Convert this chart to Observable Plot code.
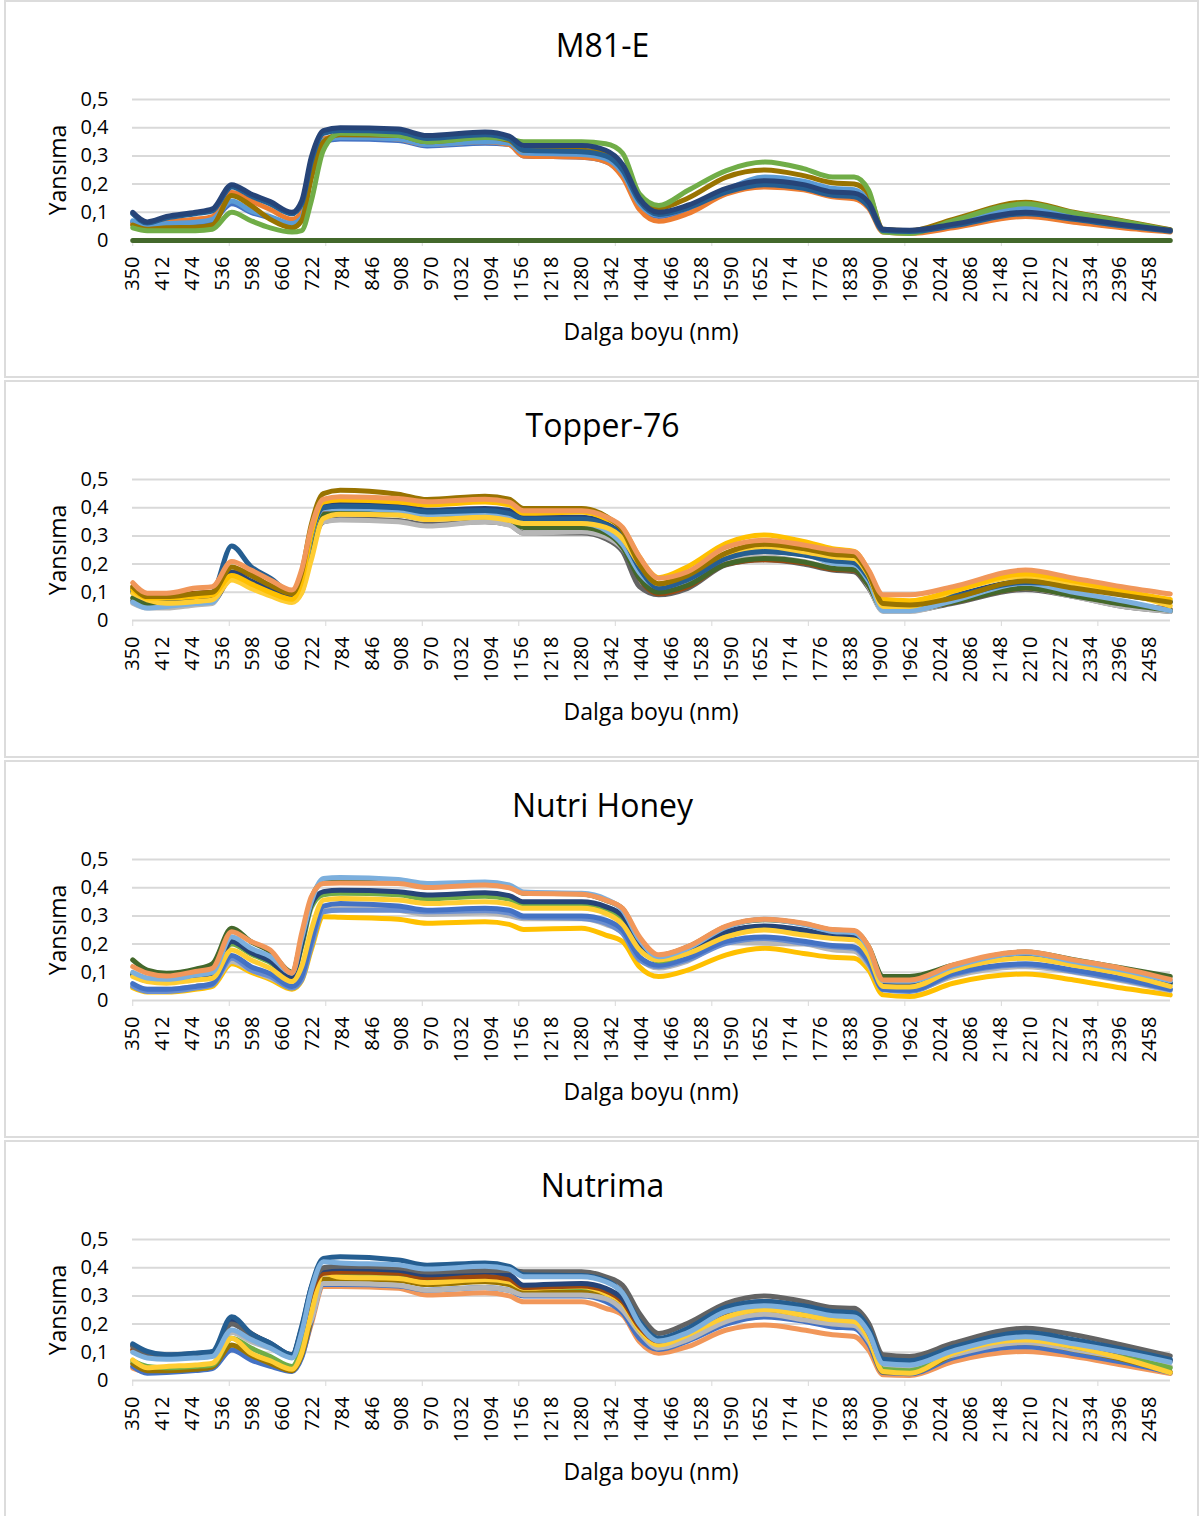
<!DOCTYPE html>
<html><head><meta charset="utf-8">
<script src="https://cdn.jsdelivr.net/npm/d3@7"></script>
<script src="https://cdn.jsdelivr.net/npm/@observablehq/plot@0.6"></script>
<style>
body{margin:0;background:#fff;font-family:"Open Sans",sans-serif;}
#root{position:relative;width:1200px;height:1516px;overflow:hidden;background:#fff}
.panel{position:absolute;left:4px;width:1195px;height:378px;box-sizing:border-box;border:2px solid #dcdcdc;}
.title{position:absolute;left:0;width:1205px;text-align:center;font-size:32px;line-height:40px;color:#000;white-space:nowrap}
.ylab{position:absolute;font-size:23px;line-height:1;color:#000;white-space:nowrap;transform:translate(-50%,-50%) rotate(-90deg)}
.xlab{position:absolute;font-size:23px;line-height:1;color:#000;white-space:nowrap;transform:translate(-50%,-50%)}
.chart{position:absolute;left:0}
</style>
</head><body><div id="root"></div>
<script>
// wavelengths (nm) at which values were read
const W = [350,380,420,480,515,555,595,635,680,700,720,745,780,900,960,1080,1130,1160,1280,1330,1365,1400,1440,1500,1580,1660,1740,1800,1845,1875,1905,1960,2050,2200,2300,2400,2500];

const xTicks = [350,412,474,536,598,660,722,784,846,908,970,1032,1094,1156,1218,1280,1342,1404,1466,1528,1590,1652,1714,1776,1838,1900,1962,2024,2086,2148,2210,2272,2334,2396,2458];
const xTickMarks = [350,550,750,950,1150,1350,1550,1750,1950,2150,2350];
const yTicks = [0,0.1,0.2,0.3,0.4,0.5];
const yTickLabels = ["0","0,1","0,2","0,3","0,4","0,5"];

const titles = ["M81-E","Topper-76","Nutri Honey","Nutrima"];
const yTitle = "Yansıma";
const xTitle = "Dalga boyu (nm)";

// ---- M81-E ----
const m81_blue    = [.065,.045,.055,.06,.07,.13,.10,.08,.055,.075,.23,.35,.36,.355,.335,.345,.34,.30,.295,.28,.23,.12,.085,.11,.175,.205,.195,.17,.165,.13,.035,.03,.055,.105,.08,.055,.035];
const m81_orange  = [.06,.05,.065,.075,.085,.17,.14,.11,.075,.10,.25,.36,.37,.36,.34,.35,.34,.30,.295,.28,.225,.11,.068,.095,.165,.19,.18,.155,.148,.115,.03,.025,.045,.085,.065,.045,.03];
const m81_lblue   = [.07,.05,.06,.065,.075,.14,.105,.085,.06,.08,.24,.355,.365,.36,.34,.35,.345,.31,.305,.29,.24,.13,.09,.115,.18,.225,.21,.185,.18,.14,.038,.034,.06,.115,.088,.06,.038];
const m81_olive   = [.055,.04,.045,.047,.055,.16,.124,.075,.045,.07,.22,.35,.375,.372,.35,.367,.355,.32,.32,.31,.265,.155,.115,.15,.225,.25,.23,.205,.20,.165,.04,.035,.075,.136,.10,.07,.038];
const m81_green   = [.045,.035,.035,.035,.04,.10,.07,.045,.03,.035,.14,.32,.38,.372,.35,.365,.36,.35,.35,.343,.31,.165,.124,.177,.248,.278,.255,.225,.225,.178,.03,.025,.07,.13,.098,.068,.036];
const m81_dblue   = [.095,.062,.08,.095,.105,.19,.158,.13,.095,.13,.28,.38,.39,.385,.362,.375,.36,.32,.315,.30,.25,.14,.092,.115,.172,.198,.185,.16,.155,.12,.035,.032,.052,.095,.075,.052,.033];
const m81_navy    = [.10,.066,.085,.10,.112,.198,.165,.138,.10,.14,.295,.39,.40,.395,.372,.385,.37,.337,.337,.32,.27,.15,.10,.125,.185,.212,.198,.172,.168,.135,.04,.036,.058,.10,.08,.057,.036];
const m81_dgreen  = [0,0,0,0,0,0,0,0,0,0,0,0,0,0,0,0,0,0,0,0,0,0,0,0,0,0,0,0,0,0,0,0,0,0,0,0,0];

// ---- Topper-76 ----
const top_dgray   = [.07,.05,.05,.06,.065,.15,.13,.10,.07,.10,.25,.35,.36,.355,.34,.35,.34,.31,.31,.29,.245,.12,.091,.114,.197,.215,.20,.179,.173,.115,.035,.035,.061,.11,.085,.05,.032];
const top_gray    = [.061,.044,.044,.055,.06,.185,.16,.12,.075,.11,.26,.35,.356,.35,.335,.35,.338,.309,.315,.297,.256,.167,.114,.132,.209,.226,.209,.19,.191,.12,.032,.032,.067,.114,.085,.05,.032];
const top_brown   = [.11,.08,.085,.097,.10,.17,.162,.12,.10,.15,.30,.39,.40,.395,.38,.385,.375,.35,.35,.33,.28,.15,.095,.12,.20,.215,.205,.182,.178,.125,.045,.04,.065,.115,.09,.06,.04];
const top_dgreen  = [.08,.06,.06,.07,.075,.15,.13,.10,.075,.12,.27,.375,.38,.375,.36,.37,.36,.33,.33,.31,.26,.15,.10,.125,.20,.22,.208,.185,.18,.125,.04,.04,.065,.115,.088,.058,.036];
const top_lblue   = [.065,.044,.05,.06,.065,.167,.14,.11,.07,.13,.30,.395,.397,.39,.375,.38,.37,.345,.345,.32,.27,.17,.12,.155,.225,.25,.238,.203,.198,.14,.035,.035,.07,.132,.10,.07,.035];
const top_navy    = [.10,.075,.075,.08,.085,.17,.14,.11,.085,.15,.31,.406,.413,.409,.391,.397,.39,.366,.366,.345,.30,.19,.12,.15,.225,.245,.235,.215,.21,.155,.067,.067,.09,.14,.132,.097,.067];
const top_dblue   = [.11,.08,.08,.09,.10,.264,.191,.15,.10,.16,.31,.40,.405,.40,.385,.39,.38,.36,.36,.34,.295,.185,.115,.145,.22,.245,.232,.212,.205,.15,.065,.063,.085,.135,.125,.092,.065];
const top_yellow  = [.097,.073,.061,.067,.073,.144,.114,.087,.064,.097,.215,.362,.377,.374,.358,.366,.355,.344,.344,.33,.29,.20,.13,.17,.238,.262,.244,.226,.22,.16,.05,.05,.103,.156,.13,.10,.052];
const top_gold    = [.11,.08,.08,.085,.09,.16,.13,.10,.075,.14,.31,.42,.427,.42,.41,.42,.41,.38,.385,.362,.327,.225,.152,.191,.274,.303,.28,.255,.245,.175,.075,.07,.105,.165,.14,.105,.075];
const top_olive   = [.12,.085,.085,.095,.10,.19,.16,.125,.095,.17,.34,.45,.462,.448,.429,.441,.43,.397,.397,.37,.32,.20,.13,.16,.24,.27,.255,.235,.23,.165,.06,.055,.08,.14,.115,.09,.065];
const top_orange  = [.134,.097,.097,.115,.12,.209,.179,.144,.108,.18,.33,.43,.439,.433,.421,.43,.42,.389,.389,.368,.33,.226,.15,.173,.26,.285,.268,.25,.244,.179,.091,.091,.12,.179,.15,.12,.094];

// ---- Nutri Honey ----
const nh_gold     = [.045,.03,.03,.04,.05,.13,.10,.075,.04,.07,.18,.297,.295,.288,.274,.279,.27,.252,.256,.232,.209,.12,.085,.108,.162,.185,.167,.153,.15,.108,.02,.014,.061,.094,.073,.044,.02];
const nh_gray     = [.055,.04,.04,.05,.06,.138,.108,.08,.05,.09,.22,.333,.333,.32,.305,.31,.30,.29,.29,.27,.24,.15,.115,.14,.205,.203,.20,.18,.175,.125,.04,.035,.085,.12,.10,.07,.035];
const nh_blue     = [.05,.032,.032,.044,.055,.15,.108,.085,.044,.073,.191,.315,.32,.32,.315,.318,.31,.295,.291,.274,.238,.144,.12,.144,.203,.22,.203,.191,.185,.132,.038,.032,.091,.126,.103,.073,.038];
const nh_blue2    = [.06,.04,.04,.05,.06,.16,.12,.095,.05,.085,.21,.335,.344,.335,.32,.327,.32,.30,.30,.285,.25,.155,.125,.15,.21,.225,.21,.195,.19,.14,.04,.036,.095,.13,.108,.078,.04];
const nh_green    = [.095,.075,.072,.085,.095,.20,.165,.135,.085,.19,.33,.375,.38,.375,.36,.37,.36,.34,.34,.32,.29,.195,.14,.17,.24,.26,.245,.225,.22,.165,.06,.058,.108,.158,.128,.098,.06];
const nh_navy     = [.09,.07,.07,.08,.09,.209,.17,.14,.08,.20,.34,.386,.391,.386,.374,.382,.372,.35,.35,.333,.30,.20,.145,.175,.244,.264,.25,.23,.225,.17,.06,.06,.11,.16,.13,.10,.062];
const nh_yellow   = [.085,.067,.061,.073,.079,.179,.144,.114,.067,.12,.25,.356,.362,.356,.344,.35,.342,.327,.327,.309,.27,.18,.144,.167,.226,.25,.232,.22,.215,.16,.05,.048,.108,.15,.125,.095,.05];
const nh_dgreen   = [.144,.108,.097,.111,.13,.256,.209,.173,.10,.22,.36,.42,.425,.42,.405,.415,.405,.38,.378,.356,.325,.22,.16,.19,.262,.286,.272,.25,.246,.19,.085,.085,.125,.172,.145,.115,.085];
const nh_lblue    = [.10,.08,.075,.09,.10,.226,.185,.156,.097,.22,.35,.433,.436,.429,.415,.42,.41,.385,.38,.36,.32,.215,.155,.185,.26,.288,.27,.245,.24,.185,.07,.068,.12,.168,.138,.108,.07];
const nh_orange   = [.12,.097,.087,.103,.114,.244,.209,.179,.097,.238,.368,.415,.417,.415,.401,.41,.40,.38,.377,.356,.327,.226,.162,.191,.264,.288,.274,.252,.248,.191,.073,.073,.126,.173,.144,.114,.075];

// ---- Nutrima ----
const nu_orange   = [.044,.03,.032,.038,.045,.12,.085,.058,.035,.085,.20,.333,.333,.327,.303,.311,.30,.279,.279,.256,.232,.138,.097,.12,.179,.197,.179,.162,.156,.108,.02,.018,.067,.103,.085,.055,.025];
const nu_blue     = [.05,.026,.028,.035,.042,.108,.073,.05,.032,.08,.21,.34,.34,.335,.32,.33,.32,.30,.30,.28,.24,.15,.11,.14,.20,.225,.21,.19,.185,.13,.028,.024,.08,.12,.095,.065,.028];
const nu_olive    = [.06,.035,.035,.04,.048,.126,.09,.061,.035,.09,.22,.36,.36,.355,.34,.35,.34,.315,.318,.30,.26,.17,.12,.155,.22,.245,.225,.205,.20,.145,.03,.028,.09,.135,.11,.075,.03];
const nu_gray     = [.103,.085,.083,.085,.09,.17,.138,.114,.085,.15,.215,.344,.344,.338,.32,.33,.32,.303,.303,.29,.25,.17,.115,.145,.21,.235,.215,.20,.195,.14,.05,.045,.09,.135,.11,.08,.05];
const nu_green    = [.07,.05,.045,.05,.055,.15,.115,.085,.05,.12,.27,.38,.38,.372,.35,.36,.35,.33,.33,.315,.28,.18,.13,.165,.23,.255,.24,.22,.215,.16,.04,.035,.10,.15,.12,.085,.045];
const nu_yellow   = [.073,.045,.05,.055,.061,.15,.097,.07,.04,.097,.238,.38,.366,.362,.347,.358,.35,.327,.333,.309,.274,.18,.126,.162,.226,.252,.232,.215,.209,.15,.032,.026,.097,.144,.12,.079,.028];
const nu_brown    = [.11,.09,.085,.09,.095,.209,.167,.128,.09,.175,.31,.38,.385,.38,.365,.37,.36,.33,.335,.318,.28,.19,.14,.179,.244,.274,.256,.235,.23,.17,.065,.06,.114,.165,.135,.10,.068];
const nu_navy     = [.125,.10,.09,.095,.10,.21,.165,.132,.091,.185,.33,.394,.397,.391,.375,.386,.375,.338,.344,.327,.29,.20,.144,.18,.255,.28,.262,.24,.235,.18,.073,.07,.115,.167,.14,.105,.071];
const nu_dgray    = [.12,.095,.088,.095,.10,.20,.16,.125,.088,.18,.32,.40,.405,.40,.385,.39,.39,.386,.386,.368,.338,.238,.167,.203,.274,.30,.28,.259,.256,.203,.091,.085,.132,.185,.162,.126,.087];
const nu_dblue    = [.13,.103,.091,.097,.103,.226,.167,.132,.091,.191,.333,.433,.439,.427,.409,.417,.405,.375,.372,.355,.31,.21,.15,.185,.26,.28,.265,.245,.24,.185,.075,.07,.118,.17,.145,.112,.075];
const nu_lblue    = [.10,.08,.075,.08,.085,.179,.145,.115,.08,.17,.32,.421,.417,.41,.395,.405,.395,.368,.368,.35,.31,.20,.14,.17,.245,.265,.25,.23,.225,.17,.06,.055,.105,.155,.13,.10,.065];

const panels = [
  [[m81_blue,"#4472C4"],[m81_orange,"#ED7D31"],[m81_lblue,"#5B9BD5"],[m81_olive,"#997300"],[m81_green,"#70AD47"],[m81_dblue,"#255E91"],[m81_navy,"#264478"],[m81_dgreen,"#43682B"]],
  [[top_dgray,"#636363"],[top_gray,"#B7B7B7"],[top_brown,"#9E480E"],[top_dgreen,"#43682B"],[top_lblue,"#7CAFDD"],[top_navy,"#264478"],[top_dblue,"#255E91"],[top_yellow,"#FFCD33"],[top_gold,"#FFC000"],[top_olive,"#997300"],[top_orange,"#F1975A"]],
  [[nh_gold,"#FFC000"],[nh_gray,"#B7B7B7"],[nh_blue,"#698ED0"],[nh_blue2,"#4472C4"],[nh_green,"#70AD47"],[nh_navy,"#264478"],[nh_yellow,"#FFCD33"],[nh_dgreen,"#43682B"],[nh_lblue,"#7CAFDD"],[nh_orange,"#F1975A"]],
  [[nu_orange,"#F1975A"],[nu_blue,"#4472C4"],[nu_olive,"#997300"],[nu_gray,"#B7B7B7"],[nu_green,"#70AD47"],[nu_yellow,"#FFCD33"],[nu_brown,"#9E480E"],[nu_navy,"#264478"],[nu_dgray,"#636363"],[nu_dblue,"#255E91"],[nu_lblue,"#7CAFDD"]]
];

const root = document.getElementById("root");
panels.forEach((series, i) => {
  const top = 380 * i;
  const box = document.createElement("div");
  box.className = "panel"; box.style.top = top + "px";
  root.appendChild(box);

  const t = document.createElement("div");
  t.className = "title"; t.style.top = (top + 25) + "px"; t.textContent = titles[i];
  root.appendChild(t);

  const yl = document.createElement("div");
  yl.className = "ylab"; yl.style.left = "57px"; yl.style.top = (top + 170) + "px"; yl.textContent = yTitle;
  root.appendChild(yl);

  const xl = document.createElement("div");
  xl.className = "xlab"; xl.style.left = "651px"; xl.style.top = (top + 331) + "px"; xl.textContent = xTitle;
  root.appendChild(xl);

  const lines = series.map(([vals, color]) =>
    Plot.line(vals.map((v, k) => ({nm: W[k], v})), {x: "nm", y: "v", stroke: color, strokeWidth: 5, curve: "monotone-x", strokeLinejoin: "round", strokeLinecap: "round"})
  );

  const svg = Plot.plot({
    width: 1200, height: 280,
    marginTop: 19, marginBottom: 120, marginLeft: 132, marginRight: 30,
    style: {fontFamily: "'Open Sans', sans-serif", fontSize: "20px", color: "#000", background: "transparent", overflow: "visible"},
    x: {domain: [349.5, 2500.5]},
    y: {domain: [0, 0.5]},
    marks: [
      Plot.gridY(yTicks, {stroke: "#d9d9d9", strokeOpacity: 1, strokeWidth: 2}),
      Plot.axisY(yTicks, {tickSize: 0, tickPadding: 24, tickFormat: d => yTickLabels[yTicks.indexOf(d)], label: null}),
      Plot.axisX(xTickMarks, {tickSize: 6, stroke: "#d9d9d9", strokeOpacity: 1, tickFormat: () => "", label: null}),
      Plot.axisX(xTicks, {tickSize: 0, tickPadding: 16, tickRotate: -90, tickFormat: d => String(d), label: null}),
      ...lines
    ]
  });
  svg.classList.add("chart");
  svg.style.position = "absolute";
  svg.style.top = (top + 80) + "px";
  svg.style.left = "0px";
  root.appendChild(svg);
});
</script>
</body></html>
